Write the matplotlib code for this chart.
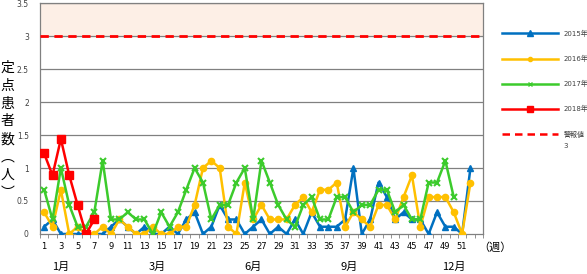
import numpy as np
import matplotlib.pyplot as plt
from matplotlib.lines import Line2D

plt.rcParams['font.family'] = ['DejaVu Sans', 'Noto Sans CJK JP']

# 週ごとの定点患者数
semanas = list(range(1, 54))
v2015 = [0.11, 0.22, 0, 0, 0, 0, 0, 0, 0.11, 0.22, 0.11, 0, 0.11, 0, 0, 0.11, 0,
         0.22, 0.33, 0, 0.11, 0.44, 0.22, 0.22, 0, 0.11, 0.22, 0, 0.11, 0, 0.22, 0,
         0.33, 0.11, 0.11, 0.11, 0.22, 1.0, 0, 0.22, 0.78, 0.56, 0.22, 0.33, 0.22,
         0.22, 0, 0.33, 0.11, 0.11, 0, 1.0]
v2016 = [0.33, 0.11, 0.67, 0, 0.11, 0, 0, 0.11, 0, 0.22, 0.11, 0, 0, 0.11, 0, 0,
         0.11, 0.11, 0.44, 1.0, 1.11, 1.0, 0.11, 0, 0.78, 0.22, 0.44, 0.22, 0.22,
         0.22, 0.44, 0.56, 0.33, 0.67, 0.67, 0.78, 0.11, 0.33, 0.22, 0.11, 0.44,
         0.44, 0.22, 0.56, 0.89, 0.11, 0.56, 0.56, 0.56, 0.33, 0, 0.78]
v2017 = [0.67, 0.22, 1.0, 0.44, 0.11, 0.11, 0.33, 1.11, 0.22, 0.22, 0.33, 0.22,
         0.22, 0, 0.33, 0.11, 0.33, 0.67, 1.0, 0.78, 0.22, 0.44, 0.44, 0.78, 1.0,
         0.22, 1.11, 0.78, 0.44, 0.22, 0.11, 0.44, 0.56, 0.22, 0.22, 0.56, 0.56,
         0.33, 0.44, 0.44, 0.67, 0.67, 0.33, 0.44, 0.22, 0.22, 0.78, 0.78, 1.11, 0.56]
v2018 = [1.22, 0.89, 1.44, 0.89, 0.44, 0, 0.22]
limite = 3
meses = ['1月', '3月', '6月', '9月', '12月']
pos_meses = [3, 14.5, 26, 37.5, 50]

fig = plt.figure(figsize=(5.87, 2.74), dpi=100)
ax = fig.add_axes([0.0681, 0.146, 0.7547, 0.843])

ax.axhspan(3, 3.5, color='#FDEFE6', zorder=0)
for y in np.arange(0.5, 3.51, 0.5):
    ax.axhline(y, color='#808080', lw=0.9, zorder=1)
ax.axhline(limite, color='#FF0000', lw=2, ls=(0, (3, 2)), zorder=3)

ax.plot(semanas[:len(v2015)], v2015, color='#0070C0', lw=1.8, marker='^', ms=4.5, zorder=4)
ax.plot(semanas[:len(v2016)], v2016, color='#FFC000', lw=1.8, marker='o', ms=4.5, zorder=4)
ax.plot(semanas[:len(v2017)], v2017, color='#3CCB2C', lw=1.8, marker='x', ms=4.5, mew=1.5, zorder=4)
ax.plot(semanas[:len(v2018)], v2018, color='#FF0000', lw=1.8, marker='s', ms=6, zorder=5)

ax.set_xlim(0.5, 53.5)
ax.set_ylim(0, 3.5)
ax.set_yticks(np.arange(0, 3.51, 0.5))
ax.set_yticklabels(['0', '0.5', '1', '1.5', '2', '2.5', '3', '3.5'], fontsize=5.5, color='#404040')
ax.set_xticks(range(1, 52, 2))
ax.set_xticklabels([str(s) for s in range(1, 52, 2)], fontsize=6)
ax.set_xticks(np.arange(0.5, 53.6, 1), minor=True)
ax.tick_params(axis='x', which='major', length=0, pad=6)
ax.tick_params(axis='x', which='minor', length=3, color='#808080')
ax.tick_params(axis='y', length=0, pad=8)
for s in ax.spines.values():
    s.set_color('#808080')
    s.set_linewidth(0.9)

# 縦書きの軸ラベル
for i, ch in enumerate('定点患者数︵人︶'):
    fig.text(0.013, 1 - (68 + i * 17.8) / 274, ch, fontsize=10, ha='center', va='center',
             family=['Noto Sans CJK JP', 'DejaVu Sans'])
fig.text(0.814, 0.098, '（週）', fontsize=8, ha='left', va='center', family=['Noto Sans CJK JP'])
for m, p in zip(meses, pos_meses):
    xf = 0.0681 + 0.7547 * (p - 0.5) / 53
    fig.text(xf, 0.027, m, fontsize=8, ha='center', va='center', family=['Noto Sans CJK JP'])

handles = [
    Line2D([], [], color='#0070C0', lw=1.8, marker='^', ms=4),
    Line2D([], [], color='#FFC000', lw=1.8, marker='o', ms=3),
    Line2D([], [], color='#3CCB2C', lw=1.8, marker='x', ms=3.5),
    Line2D([], [], color='#FF0000', lw=1.8, marker='s', ms=4.5),
    Line2D([], [], color='#FF0000', lw=1.8, ls=(0, (3, 2))),
]
labels = ['2015年', '2016年', '2017年', '2018年', '警報値']
leg = fig.legend(handles, labels, loc='upper left', bbox_to_anchor=(0.845, 0.915),
                 frameon=False, handlelength=8, handletextpad=0.8, labelspacing=2.6,
                 prop={'family': ['DejaVu Sans', 'Noto Sans CJK JP'], 'size': 5})
for t in leg.get_texts():
    t.set_color('#404040')
fig.text(563 / 587, 1 - 146 / 274, str(limite), fontsize=5, color='#404040', ha='left', va='center')

fig.savefig('out.png', dpi=100)
